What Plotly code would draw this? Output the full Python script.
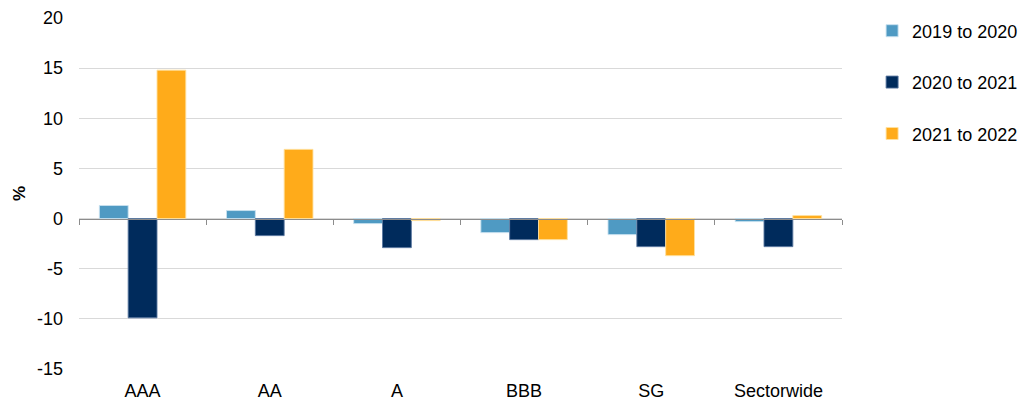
import plotly.graph_objects as go

# Rating categories and year-on-year changes (%)
categories = ["AAA", "AA", "A", "BBB", "SG", "Sectorwide"]
series_names = ["2019 to 2020", "2020 to 2021", "2021 to 2022"]
chg_2019_2020 = [1.3, 0.8, -0.5, -1.4, -1.6, -0.3]
chg_2020_2021 = [-9.9, -1.7, -2.9, -2.1, -2.8, -2.8]
chg_2021_2022 = [14.8, 6.9, -0.2, -2.1, -3.7, 0.3]
y_ticks = [-15, -10, -5, 0, 5, 10, 15, 20]
y_tick_labels = ["-15", "-10", "-5", "0", "5", "10", "15", "20"]

colors = ["#4F9AC3", "#002B5C", "#FFAB1A"]
outlines = ["rgba(200,225,240,0.9)", "rgba(90,120,160,0.9)", "rgba(255,225,160,0.9)"]
font_family = "Liberation Sans, Arial, sans-serif"

fig = go.Figure()
for name, vals, col, ol in zip(series_names,
                               [chg_2019_2020, chg_2020_2021, chg_2021_2022],
                               colors, outlines):
    fig.add_trace(go.Bar(
        x=categories, y=vals, name=name, legendgroup=name,
        marker=dict(color=col, line=dict(color=ol, width=1)),
    ))

# Invisible helper trace so the zero-line category axis is drawn
fig.add_trace(go.Scatter(
    x=[-0.5, len(categories) - 0.5], y=[0, 0], xaxis="x2", yaxis="y",
    mode="lines", line=dict(width=0), showlegend=False, hoverinfo="skip",
))

y_min, y_max = y_ticks[0], y_ticks[-1]

fig.update_layout(
    width=1020, height=403,
    margin=dict(l=79, r=178, t=18, b=34, autoexpand=False),
    paper_bgcolor="white", plot_bgcolor="white",
    font=dict(family=font_family, size=18, color="#000000"),
    barmode="group", bargap=0.32, bargroupgap=0,
    xaxis=dict(
        type="category", categoryorder="array", categoryarray=categories,
        showline=False, ticks="", showgrid=False, zeroline=False,
        tickfont=dict(size=18), range=[-0.5, len(categories) - 0.5],
        ticklabelstandoff=9, automargin=False,
    ),
    xaxis2=dict(
        overlaying="x", anchor="free",
        position=(0 - y_min) / (y_max - y_min),
        range=[-0.5, len(categories) - 0.5],
        tickmode="array",
        tickvals=[i - 0.5 for i in range(len(categories) + 1)],
        ticks="outside", ticklen=5, tickcolor="#8C8C8C", tickwidth=1,
        showticklabels=False, showline=True, linecolor="#8C8C8C", linewidth=1,
        showgrid=False, zeroline=False, automargin=False,
    ),
    yaxis=dict(
        range=[y_min, y_max], tickmode="array",
        tickvals=y_ticks, ticktext=y_tick_labels,
        showgrid=True, gridcolor="#D9D9D9", gridwidth=1,
        zeroline=False, showline=False, ticks="",
        tickfont=dict(size=18), ticklabelstandoff=15, automargin=False,
        title=dict(text="<b>%</b>", font=dict(size=17), standoff=7),
    ),
    legend=dict(
        xref="container", yref="container",
        x=0.855, xanchor="left", y=0.969, yanchor="top",
        font=dict(size=18), tracegroupgap=25,
        itemwidth=30, bgcolor="rgba(0,0,0,0)",
    ),
    showlegend=True,
)

fig.write_html("out.html")
